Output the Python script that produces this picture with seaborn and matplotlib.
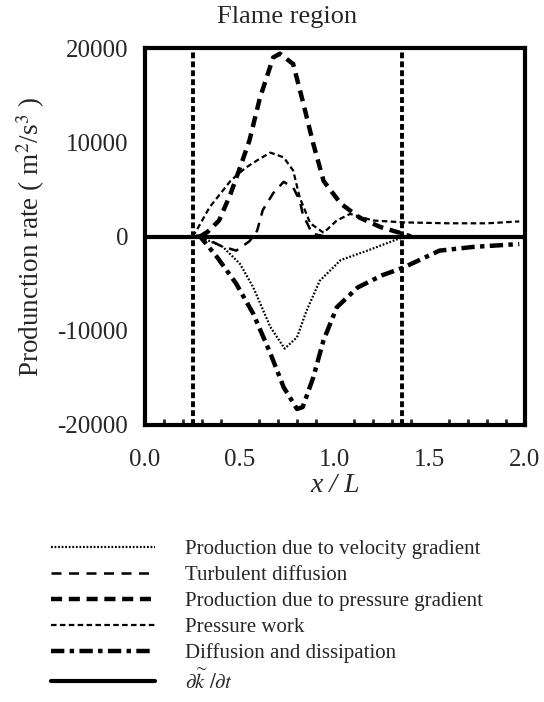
import matplotlib
matplotlib.use("Agg")
import matplotlib.pyplot as plt
from matplotlib.ticker import MultipleLocator
import seaborn as sns
import pandas as pd

sns.set_style("white")
plt.rcParams["font.family"] = ["Liberation Serif", "DejaVu Serif"]
plt.rcParams["mathtext.fontset"] = "stix"
plt.rcParams["axes.unicode_minus"] = False

vel_x = [0.0, 0.27, 0.33, 0.41, 0.5, 0.57, 0.66, 0.735, 0.8, 0.85, 0.92, 1.03, 1.17, 1.34, 1.45]
vel_y = [0, 0, -400, -1100, -2900, -5400, -9600, -11900, -10700, -7900, -4700, -2500, -1500, -200, 0]

turb_x = [0.27, 0.33, 0.4, 0.48, 0.55, 0.59, 0.62, 0.675, 0.73, 0.78, 0.815, 0.83, 0.88, 0.95]
turb_y = [0, -300, -1000, -1500, -500, 600, 2800, 4600, 5800, 5200, 3800, 2400, 300, 0]

pgrad_x = [0.29, 0.33, 0.39, 0.45, 0.5, 0.55, 0.605, 0.675, 0.71, 0.78, 0.83, 0.885, 0.94, 1.03, 1.13, 1.24, 1.34, 1.4]
pgrad_y = [0, 500, 1700, 4500, 7300, 10200, 14700, 19000, 19400, 18300, 14400, 9900, 5900, 3500, 2000, 1000, 400, 0]

pwork_x = [0.25, 0.27, 0.34, 0.45, 0.53, 0.6, 0.66, 0.73, 0.78, 0.815, 0.87, 0.94, 1.01, 1.08, 1.2, 1.36, 1.6, 1.8, 1.97]
pwork_y = [0, 600, 3100, 5900, 7300, 8200, 8900, 8400, 7000, 4100, 1400, 400, 1700, 2400, 1700, 1500, 1400, 1400, 1600]

diss_x = [0.27, 0.29, 0.38, 0.48, 0.57, 0.66, 0.73, 0.8, 0.83, 0.885, 0.94, 1.01, 1.12, 1.25, 1.36, 1.55, 1.73, 1.97]
diss_y = [0, 0, -2200, -5000, -8200, -12400, -16000, -18300, -18100, -15000, -11000, -7500, -5400, -4100, -3300, -1500, -1100, -800]

dkdt_x = [0.0, 0.5, 1.0, 1.5, 2.0]
dkdt_y = [0, 0, 0, 0, 0]

names = [
    "Production due to velocity gradient",
    "Turbulent diffusion",
    "Production due to pressure gradient",
    "Pressure work",
    "Diffusion and dissipation",
    r"$\partial\widetilde{k}\ /\partial t$",
]
xs = [vel_x, turb_x, pgrad_x, pwork_x, diss_x, dkdt_x]
ys = [vel_y, turb_y, pgrad_y, pwork_y, diss_y, dkdt_y]

flame_edges = [0.253, 1.353]

frames = []
for n, x, y in zip(names, xs, ys):
    frames.append(pd.DataFrame({"x": x, "y": y, "term": n}))
df = pd.concat(frames, ignore_index=True)

dashes = {
    names[0]: (0.8, 0.8),
    names[1]: (4, 3),
    names[2]: (2.5, 1.5),
    names[3]: (2.5, 1.5),
    names[4]: (3, 1.2, 1, 1.2),
    names[5]: "",
}
sizes = {
    names[0]: 1.6,
    names[1]: 1.8,
    names[2]: 3.2,
    names[3]: 1.6,
    names[4]: 3.2,
    names[5]: 3.0,
}

fig = plt.figure(figsize=(5.44, 7.02), dpi=100)
ax = fig.add_axes([0.2665, 0.3946, 0.6985, 0.537])

sns.lineplot(data=df, x="x", y="y", hue="term", style="term", size="term",
             palette=["black"] * 6, dashes=dashes, sizes=sizes,
             hue_order=names, style_order=names, size_order=names,
             sort=False, estimator=None, ax=ax, legend="full")

for xv in flame_edges:
    ax.axvline(xv, color="black", lw=2.8, linestyle=(0, (1.5, 0.8)))

ax.set_xlim(0, 2.0)
ax.set_ylim(-20000, 20000)
ax.xaxis.set_major_locator(MultipleLocator(0.5))
ax.xaxis.set_minor_locator(MultipleLocator(0.1))
ax.yaxis.set_major_locator(MultipleLocator(10000))
ax.xaxis.set_major_formatter(plt.FuncFormatter(lambda v, p: f"{v:.1f}"))
ax.tick_params(axis="both", which="major", direction="in", labelsize=18, width=2.2)
ax.tick_params(axis="x", which="major", length=9, top=False, pad=17)
ax.tick_params(axis="y", which="major", length=12, right=False, pad=12)
ax.tick_params(axis="x", which="minor", direction="in", length=4, width=2, bottom=True)
for s in ax.spines.values():
    s.set_linewidth(3)
    s.set_color("black")

ax.set_xlabel("x / L", fontsize=20, style="italic")
ax.xaxis.set_label_coords(0.5, -0.128)
ax.set_ylabel(r"Produnction rate ( m$^2$/s$^3$ )", fontsize=19.5)
ax.yaxis.set_label_coords(-0.258, 0.5)
fig.text(0.528, 0.976, "Flame region", fontsize=19, ha="center", va="center")

handles, labels = ax.get_legend_handles_labels()
ax.get_legend().remove()
leg = fig.legend(handles, labels, loc="upper left", bbox_to_anchor=(0.075, 0.246),
                 frameon=False, fontsize=15, handlelength=5.0, handletextpad=1.4,
                 labelspacing=0.3, borderpad=0)

fig.savefig("out.png", dpi=100)
